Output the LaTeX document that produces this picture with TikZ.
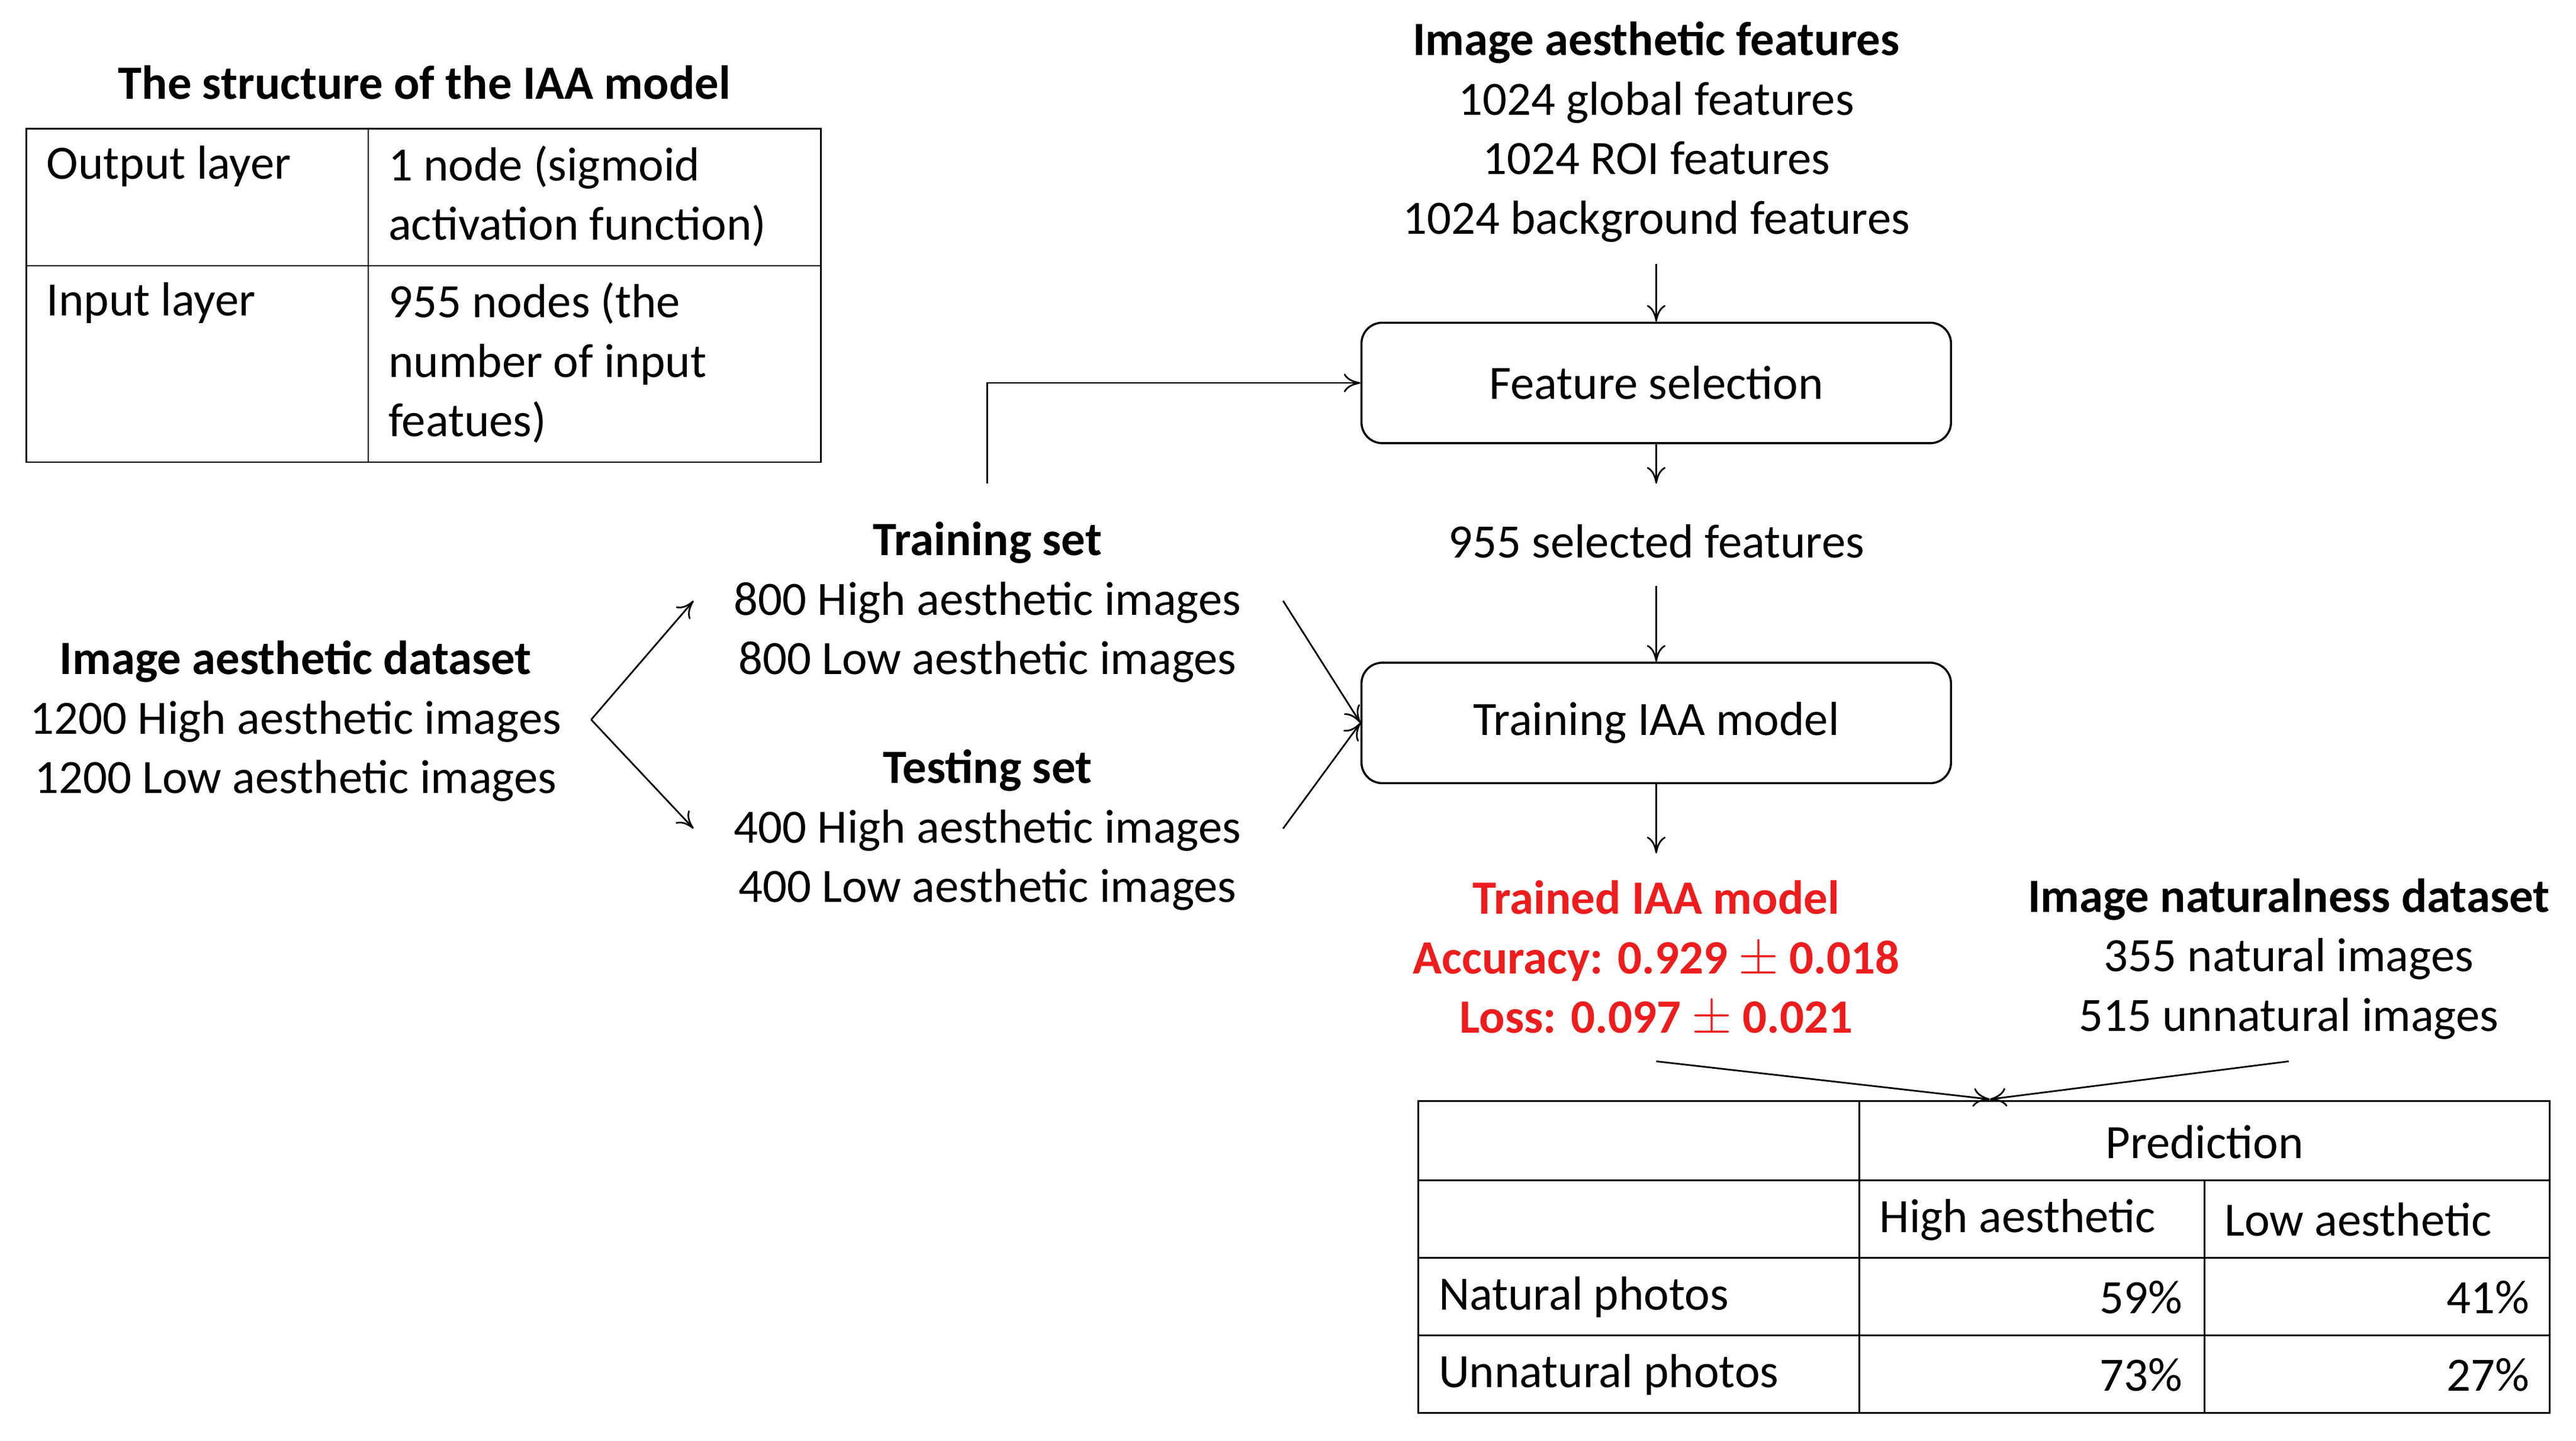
\documentclass[tikz,border=0pt]{standalone}
\usepackage{fontspec}
\setmainfont{Carlito}
\usetikzlibrary{arrows.meta}
\definecolor{myred}{HTML}{EE1C1C}
\begin{document}
\begin{tikzpicture}[x=0.02789cm,y=-0.02789cm,
  txt/.style={font=\fontsize{23}{28.6}\selectfont,align=center,inner sep=0pt},
  ltxt/.style={font=\fontsize{23}{28.6}\selectfont,align=left,inner sep=0pt,anchor=west},
  rtxt/.style={font=\fontsize{23}{28.6}\selectfont,inner sep=0pt,anchor=east},
  box/.style={draw,rounded corners=10pt,line width=1pt,minimum width=357*0.02789cm,minimum height=73*0.02789cm,font=\fontsize{23}{24}\selectfont},
  arr/.style={-{To[length=8pt,width=9pt]},line width=0.8pt},
  grid/.style={line width=0.8pt}]
\useasboundingbox (0,0) rectangle (1560,873);
% IAA structure table
\node[txt,font=\fontsize{23}{24}\bfseries] (t1) at (257,50) {The structure of the IAA model};
\draw[grid] (16,78) rectangle (497,280);
\draw[grid] (223,78) -- (223,280) (16,161) -- (497,161);
\node[ltxt,anchor=north west] (o1) at (28,88) {Output layer};
\node[ltxt,anchor=north west] (o2) at (235,88) {1 node (sigmoid\\activation function)};
\node[ltxt,anchor=north west] (i1) at (28,171) {Input layer};
\node[ltxt,anchor=north west] (i2) at (235,171) {955 nodes (the\\number of input\\featues)};
% features
\node[txt] (feat) at (1003,80) {\textbf{Image aesthetic features}\\1024 global features\\1024 ROI features\\1024 background features};
\node[box] (fs) at (1003,232) {Feature selection};
\node[txt] (sel) at (1003,328) {955 selected features};
\node[box] (tr) at (1003,438) {Training IAA model};
\node[txt,text=myred,font=\fontsize{23}{28.6}\bfseries] (trained) at (1003,581) {Trained IAA model\\Accuracy: 0.929 $\pm$ 0.018\\Loss: 0.097 $\pm$ 0.021};
\node[txt] (nat) at (1386,581) {\textbf{Image naturalness dataset}\\355 natural images\\515 unnatural images};
\coordinate (f1) at (1003,160);
\draw[arr] (f1) -- (fs.north);
\coordinate (s1) at (1003,293);
\draw[arr] (fs.south) -- (s1);
\coordinate (s2) at (1003,355);
\draw[arr] (s2) -- (tr.north);
\coordinate (t2) at (1003,517);
\draw[arr] (tr.south) -- (t2);
\coordinate (m) at (1205,666);
\coordinate (a1) at (1003,643);
\coordinate (a2) at (1386,643);
\draw[arr] (a1) -- (m);
\draw[arr] (a2) -- (m);
% left
\node[txt] (ds) at (179,437) {\textbf{Image aesthetic dataset}\\1200 High aesthetic images\\1200 Low aesthetic images};
\node[txt] (trs) at (598,365) {\textbf{Training set}\\800 High aesthetic images\\800 Low aesthetic images};
\node[txt] (tes) at (598,503) {\textbf{Testing set}\\400 High aesthetic images\\400 Low aesthetic images};
\coordinate (d0) at (358,436);
\coordinate (d1) at (420,364);
\coordinate (d2) at (420,502);
\draw[arr] (d0) -- (d1);
\draw[arr] (d0) -- (d2);
\coordinate (u0) at (598,293);
\draw[arr] (u0) |- (fs.west);
\coordinate (r1) at (777,364);
\coordinate (r2) at (777,502);
\draw[arr] (r1) -- (tr.west);
\draw[arr] (r2) -- (tr.west);
% prediction table
\draw[grid] (859,667) rectangle (1544,856);
\draw[grid] (1126,667) -- (1126,856) (1335,715) -- (1335,856);
\draw[grid] (859,715) -- (1544,715) (859,762) -- (1544,762) (859,809) -- (1544,809);
\node[txt] (pred) at (1335,692) {Prediction};
\node[ltxt] (ha) at (1138,739) {High aesthetic};
\node[ltxt] (la) at (1347,739) {Low aesthetic};
\node[ltxt] (np) at (871,786) {Natural photos};
\node[rtxt] (n1) at (1322,786) {59\%};
\node[rtxt] (n2) at (1532,786) {41\%};
\node[ltxt] (up) at (871,833) {Unnatural photos};
\node[rtxt] (u1) at (1322,833) {73\%};
\node[rtxt] (u2) at (1532,833) {27\%};
\end{tikzpicture}
\end{document}
